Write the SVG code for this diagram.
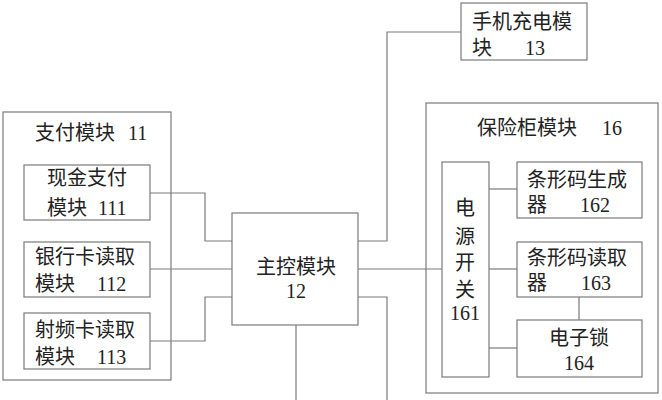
<svg xmlns="http://www.w3.org/2000/svg" width="662" height="400" viewBox="0 0 662 400">
<style>
.b{fill:#fff;stroke:#7a7a7a;stroke-width:1.2}
.o{fill:none;stroke:#7a7a7a;stroke-width:1.2}
.c{fill:none;stroke:#7a7a7a;stroke-width:1.2}
text{font-family:"Liberation Serif","Noto Sans CJK SC",serif;font-size:20px;fill:#222}
.m{text-anchor:middle}
</style>
<rect width="662" height="400" fill="#fff"/>
<g id="pay11">
<rect class="o" x="3" y="112" width="168" height="268"/>
<text x="35" y="140">支付模块</text>
<text x="128" y="140">11</text>
</g>
<g id="safe16">
<rect class="o" x="426" y="103" width="232" height="290"/>
<text x="477" y="135">保险柜模块</text>
<text x="602" y="135">16</text>
</g>
<g id="connectors">
<polyline class="c" points="150,193 205,193 205,241 232,241"/>
<line class="c" x1="150" y1="269" x2="232" y2="269"/>
<polyline class="c" points="150,341 205,341 205,297 232,297"/>
<polyline class="c" points="358,241 387,241 387,32 461,32"/>
<line class="c" x1="358" y1="269" x2="442" y2="269"/>
<polyline class="c" points="358,297 387,297 387,400"/>
<line class="c" x1="296" y1="325" x2="296" y2="400"/>
<line class="c" x1="489" y1="189" x2="517" y2="189"/>
<line class="c" x1="489" y1="269" x2="517" y2="269"/>
<line class="c" x1="489" y1="348" x2="517" y2="348"/>
<line class="c" x1="579" y1="297" x2="579" y2="320"/>
</g>
<g id="cash111">
<rect class="b" x="24" y="165" width="126" height="55"/>
<text x="47" y="185">现金支付</text>
<text x="47" y="215">模块</text>
<text x="98" y="215">111</text>
</g>
<g id="bank112">
<rect class="b" x="24" y="242" width="126" height="55"/>
<text x="35" y="264">银行卡读取</text>
<text x="35" y="291">模块</text>
<text x="97" y="291">112</text>
</g>
<g id="rf113">
<rect class="b" x="24" y="313" width="126" height="56"/>
<text x="35" y="337">射频卡读取</text>
<text x="35" y="364">模块</text>
<text x="97" y="364">113</text>
</g>
<g id="main12">
<rect class="b" x="232" y="213" width="126" height="112"/>
<text class="m" x="296" y="274">主控模块</text>
<text class="m" x="296" y="298">12</text>
</g>
<g id="phone13">
<rect class="b" x="461" y="3" width="126" height="57"/>
<text x="472" y="29">手机充电模</text>
<text x="472" y="55">块</text>
<text x="525" y="55">13</text>
</g>
<g id="power161">
<rect class="b" x="442" y="162" width="47" height="215"/>
<text class="m" x="465" y="215">电</text>
<text class="m" x="465" y="244">源</text>
<text class="m" x="465" y="270">开</text>
<text class="m" x="465" y="297">关</text>
<text class="m" x="465" y="320">161</text>
</g>
<g id="gen162">
<rect class="b" x="517" y="162" width="125" height="56"/>
<text x="527" y="187">条形码生成</text>
<text x="527" y="212">器</text>
<text x="580" y="212">162</text>
</g>
<g id="read163">
<rect class="b" x="517" y="242" width="125" height="55"/>
<text x="527" y="265">条形码读取</text>
<text x="527" y="290">器</text>
<text x="581" y="290">163</text>
</g>
<g id="lock164">
<rect class="b" x="517" y="320" width="125" height="57"/>
<text class="m" x="579" y="345">电子锁</text>
<text class="m" x="579" y="370">164</text>
</g>
</svg>
